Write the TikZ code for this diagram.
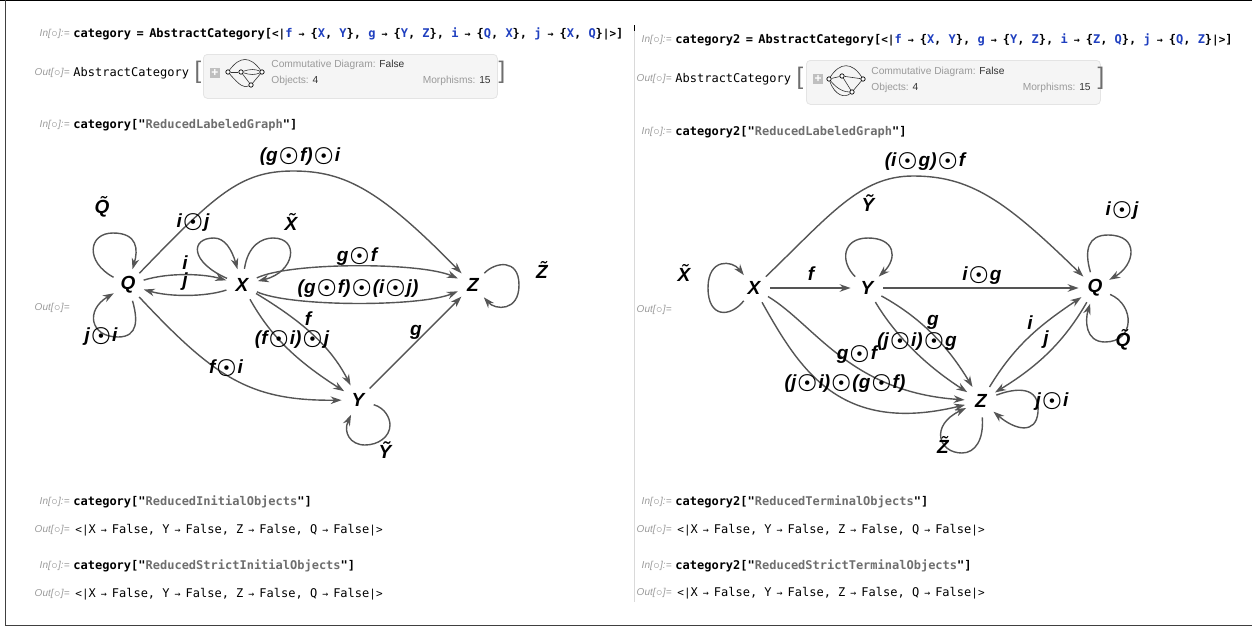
\documentclass[tikz,border=0pt]{standalone}
\usepackage{fontspec}
\setmainfont{Liberation Sans}
\newfontfamily\codefont{DejaVu Sans Mono}
\definecolor{edgegray}{HTML}{555555}
\definecolor{symblue}{HTML}{1F3FBF}
\definecolor{strgray}{HTML}{6E6E6E}
\definecolor{promptgray}{HTML}{9A9A9A}
\definecolor{boxfill}{HTML}{F5F5F5}
\definecolor{boxline}{HTML}{E4E4E4}
\usetikzlibrary{arrows.meta}
\newcommand{\dotop}{\hspace{0.6pt}\scalebox{1.2}{\boldmath$\odot$}\hspace{0.6pt}}
\newcommand{\arw}{\makebox[8pt]{\fontsize{5}{5}\selectfont →}}
\newcommand{\arwc}{\makebox[9pt]{\fontsize{5}{5}\selectfont →}}
\newcommand{\lop}{{\fontsize{5.5}{5}\selectfont<|}}
\newcommand{\lcl}{{\fontsize{5.5}{5}\selectfont|>}}
\newcommand{\bl}[1]{\textcolor{symblue}{#1}}
\newcommand{\strg}[1]{"\textcolor{strgray}{#1}"}
\newcommand{\inlab}{In[$\scriptscriptstyle\circ$]:=}
\newcommand{\outlab}{Out[$\scriptscriptstyle\circ$]=}
\newcommand{\eqsp}{\hspace{-0.9pt} =\hspace{-0.9pt} }

\begin{document}
\begin{tikzpicture}[
  x=0.5pt, y=-0.5pt,
  obj/.style={circle, inner sep=0pt, minimum size=16pt, font=\fontsize{9.5}{9}\selectfont\bfseries\itshape},
  lab/.style={inner sep=0pt, font=\fontsize{9.5}{9}\selectfont\bfseries\itshape},
  arc/.style={draw=edgegray, line width=0.7pt, -{Stealth[length=5.5pt, width=3.8pt]}},
  code/.style={anchor=west, inner sep=0pt, font=\codefont\bfseries\fontsize{6}{7}\selectfont},
  outp/.style={anchor=west, inner sep=0pt, font=\codefont\fontsize{6}{7}\selectfont},
  prompt/.style={anchor=east, inner sep=0pt, text=promptgray, font=\itshape\fontsize{5}{5}\selectfont},
  sumbox/.style={anchor=north west, draw=boxline, fill=boxfill, rounded corners=2pt,
                 minimum width=147pt, minimum height=22pt, inner sep=0pt},
  sumtext/.style={inner sep=0pt, text=promptgray, font=\fontsize{5.1}{6}\selectfont},
  brack/.style={inner sep=0pt, text=strgray, font=\fontsize{12}{12}\selectfont},
  plusbox/.style={fill=black!25, text=white, minimum size=5pt, inner sep=0pt, font=\bfseries\fontsize{6}{6}\selectfont},
  dotnode/.style={circle, draw=black, fill=white, line width=0.35pt, inner sep=0pt, minimum size=2.2pt},
  thin edge/.style={draw=black!80, line width=0.3pt},
]
\useasboundingbox (0,0) rectangle (1252,627);

% page frame
\draw[black, line width=0.7pt] (0,0.5) -- (1252,0.5);
\draw[black!75, line width=0.5pt] (5.5,0) -- (5.5,625.5) -- (1252,625.5);
\draw[black!15, line width=0.4pt] (634,28) -- (634,602);
\draw[black, line width=0.5pt] (634,25) -- (634,31);

% left notebook
\node[prompt] (a1) at (70,34) {\inlab};
\node[code] (c1) at (73,34) {category\eqsp AbstractCategory[\lop\bl{f}\arwc\{\bl{X}, \bl{Y}\}, \bl{g}\arwc\{\bl{Y}, \bl{Z}\}, \bl{i}\arwc\{\bl{Q}, \bl{X}\}, \bl{j}\arwc\{\bl{X}, \bl{Q}\}\lcl]};
\node[prompt] (a2) at (70,73) {\outlab};
\node[outp] (c2) at (73,73) {AbstractCategory};
\node[brack] (b1) at (198,72) {[};
\node[sumbox] (s1) at (203,54) {};
\node[brack] (b2) at (502,72) {]};
\node[plusbox] (pb1) at (215,73) {+};
\node[dotnode] (i1q) at (228,72) {};
\node[dotnode] (i1x) at (241,72) {};
\node[dotnode] (i1z) at (262,72) {};
\node[dotnode] (i1y) at (251,85) {};
\draw[thin edge] (i1q) .. controls (240,56) and (250,56) .. (i1z);
\draw[thin edge] (i1q) .. controls (240,86) and (244,88) .. (i1y);
\draw[thin edge] (i1q) -- (i1x);
\draw[thin edge] (i1x) .. controls (250,69) and (255,69) .. (i1z);
\draw[thin edge] (i1x) .. controls (250,75) and (255,75) .. (i1z);
\draw[thin edge] (i1x) -- (i1y);
\draw[thin edge] (i1y) -- (i1z);
\node[sumtext, anchor=west] (t1) at (271,65) {Commutative Diagram: \textcolor{black!80}{False}};
\node[sumtext, anchor=west] (t2) at (271,81) {Objects: \textcolor{black!80}{4}};
\node[sumtext, anchor=east] (t3) at (491,81) {Morphisms: \textcolor{black!80}{15}};
\node[prompt] (a3) at (70,125) {\inlab};
\node[code] (c3) at (73,125) {category[\strg{ReducedLabeledGraph}]};
\node[prompt] (a4) at (70,308) {\outlab};
\node[prompt] (a5) at (70,502) {\inlab};
\node[code] (c5) at (73,502) {category[\strg{ReducedInitialObjects}]};
\node[prompt] (a6) at (70,530) {\outlab};
\node[outp] (c6) at (75,530) {\lop X\arw False, Y\arw False, Z\arw False, Q\arw False\lcl};
\node[prompt] (a7) at (70,566) {\inlab};
\node[code] (c7) at (73,566) {category[\strg{ReducedStrictInitialObjects}]};
\node[prompt] (a8) at (70,594) {\outlab};
\node[outp] (c8) at (75,594) {\lop X\arw False, Y\arw False, Z\arw False, Q\arw False\lcl};

% left graph
\node[obj] (Q1) at (128,285) {Q};
\node[obj] (X1) at (242,285) {X};
\node[obj] (Z1) at (473,285) {Z};
\node[obj] (Y1) at (358,400) {Y};

\draw[arc] (Q1) .. controls (215,195) and (240,171) .. (293,171) .. controls (345,171) and (380,190) .. (Z1);
\draw[arc] (Q1) .. controls (170,272) and (205,274) .. (X1);
\draw[arc] (X1) .. controls (205,297) and (170,297) .. (Q1);
\draw[arc] (X1) .. controls (290,262) and (420,262) .. (Z1);
\draw[arc] (X1) .. controls (290,307) and (420,307) .. (Z1);
\draw[arc] (X1) .. controls (300,320) and (330,345) .. (Y1);
\draw[arc] (X1) .. controls (270,335) and (295,360) .. (Y1);
\draw[arc] (Q1) .. controls (215,378) and (250,401) .. (Y1);
\draw[arc] (Y1) -- (Z1);
\draw[arc] (Q1) .. controls (85,262) and (88,233) .. (113,233) .. controls (138,233) and (138,250) .. (Q1);
\draw[arc] (Q1) .. controls (138,320) and (138,337) .. (118,337) .. controls (90,337) and (85,310) .. (Q1);
\draw[arc] (X1) .. controls (190,262) and (190,238) .. (214,238) .. controls (225,238) and (232,250) .. (X1);
\draw[arc] (X1) .. controls (248,245) and (262,238) .. (273,238) .. controls (300,238) and (295,272) .. (X1);
\draw[arc] (Z1) .. controls (495,262) and (519,258) .. (519,285) .. controls (519,312) and (495,310) .. (Z1);
\draw[arc] (Y1) .. controls (385,408) and (390,418) .. (390,425) .. controls (390,437) and (378,445) .. (365,445) .. controls (350,445) and (343,432) .. (Y1);

\node[lab] (l1) at (300,157) {(g\dotop f)\dotop i};
\node[lab] (l2) at (193,223) {i\dotop j};
\node[lab] (l3) at (102,207) {\~Q};
\node[lab] (l4) at (291,222) {\~X};
\node[lab] (l5) at (185,263) {i};
\node[lab] (l6) at (185,282) {j};
\node[lab] (l7) at (357,257) {g\dotop f};
\node[lab] (l8) at (358,289) {(g\dotop f)\dotop(i\dotop j)};
\node[lab] (l9) at (542,270) {\~Z};
\node[lab] (l10) at (308,319) {f};
\node[lab] (l11) at (292,340) {(f\dotop i)\dotop j};
\node[lab] (l12) at (416,332) {g};
\node[lab] (l13) at (226,368) {f\dotop i};
\node[lab] (l14) at (101,337) {j\dotop i};
\node[lab] (l15) at (385,450) {\~Y};

% right notebook
\node[prompt] (d1) at (672,40) {\inlab};
\node[code] (e1) at (675,40) {category2\eqsp AbstractCategory[\lop\bl{f}\arwc\{\bl{X}, \bl{Y}\}, \bl{g}\arwc\{\bl{Y}, \bl{Z}\}, \bl{i}\arwc\{\bl{Z}, \bl{Q}\}, \bl{j}\arwc\{\bl{Q}, \bl{Z}\}\lcl]};
\node[prompt] (d2) at (672,79) {\outlab};
\node[outp] (e2) at (675,79) {AbstractCategory};
\node[brack] (b3) at (800,78) {[};
\node[sumbox] (s2) at (806,60) {};
\node[brack] (b4) at (1101,78) {]};
\node[plusbox] (pb2) at (818,79) {+};
\node[dotnode] (i2x) at (829,79) {};
\node[dotnode] (i2y) at (842,76) {};
\node[dotnode] (i2q) at (863,79) {};
\node[dotnode] (i2z) at (852,92) {};
\draw[thin edge] (i2x) .. controls (840,62) and (852,62) .. (i2q);
\draw[thin edge] (i2x) -- (i2y);
\draw[thin edge] (i2y) -- (i2q);
\draw[thin edge] (i2y) -- (i2z);
\draw[thin edge] (i2x) .. controls (838,90) and (845,92) .. (i2z);
\draw[thin edge] (i2x) .. controls (835,96) and (845,98) .. (i2z);
\draw[thin edge] (i2z) -- (i2q);
\node[sumtext, anchor=west] (t4) at (871,72) {Commutative Diagram: \textcolor{black!80}{False}};
\node[sumtext, anchor=west] (t5) at (871,88) {Objects: \textcolor{black!80}{4}};
\node[sumtext, anchor=east] (t6) at (1091,88) {Morphisms: \textcolor{black!80}{15}};
\node[prompt] (d3) at (672,132) {\inlab};
\node[code] (e3) at (675,132) {category2[\strg{ReducedLabeledGraph}]};
\node[prompt] (d4) at (672,310) {\outlab};
\node[prompt] (d5) at (672,502) {\inlab};
\node[code] (e5) at (675,502) {category2[\strg{ReducedTerminalObjects}]};
\node[prompt] (d6) at (672,530) {\outlab};
\node[outp] (e6) at (677,530) {\lop X\arw False, Y\arw False, Z\arw False, Q\arw False\lcl};
\node[prompt] (d7) at (672,566) {\inlab};
\node[code] (e7) at (675,566) {category2[\strg{ReducedStrictTerminalObjects}]};
\node[prompt] (d8) at (672,593) {\outlab};
\node[outp] (e8) at (677,593) {\lop X\arw False, Y\arw False, Z\arw False, Q\arw False\lcl};

% right graph
\node[obj] (X2) at (754,288) {X};
\node[obj] (Y2) at (867,288) {Y};
\node[obj] (Q2) at (1095,288) {Q};
\node[obj] (Z2) at (981,401) {Z};

\draw[arc] (X2) .. controls (830,215) and (860,176) .. (913,176) .. controls (970,176) and (1005,200) .. (Q2);
\draw[arc] (X2) -- (Y2);
\draw[arc] (Y2) -- (Q2);
\draw[arc] (X2) .. controls (730,318) and (708,318) .. (708,288) .. controls (708,258) and (732,260) .. (X2);
\draw[arc] (Y2) .. controls (840,262) and (842,238) .. (868,238) .. controls (895,238) and (898,258) .. (Y2);
\draw[arc] (Q2) .. controls (1084,250) and (1088,235) .. (1108,235) .. controls (1140,235) and (1135,265) .. (Q2);
\draw[arc] (Q2) .. controls (1135,305) and (1135,342) .. (1105,342) .. controls (1085,342) and (1085,320) .. (Q2);
\draw[arc] (Y2) .. controls (925,320) and (950,350) .. (Z2);
\draw[arc] (Y2) .. controls (895,335) and (925,365) .. (Z2);
\draw[arc] (X2) .. controls (815,325) and (850,392) .. (Z2);
\draw[arc] (X2) .. controls (800,370) and (840,435) .. (Z2);
\draw[arc] (Z2) .. controls (1015,345) and (1040,325) .. (Q2);
\draw[arc] (Q2) .. controls (1065,340) and (1040,365) .. (Z2);
\draw[arc] (Z2) .. controls (1015,388) and (1040,385) .. (1038,412) .. controls (1036,435) and (1015,430) .. (Z2);
\draw[arc] (Z2) .. controls (984,440) and (975,453) .. (962,453) .. controls (938,453) and (930,425) .. (Z2);

\node[lab] (m1) at (925,162) {(i\dotop g)\dotop f};
\node[lab] (m2) at (868,203) {\~Y};
\node[lab] (m3) at (1122,211) {i\dotop j};
\node[lab] (m4) at (684,273) {\~X};
\node[lab] (m5) at (811,274) {f};
\node[lab] (m6) at (982,276) {i\dotop g};
\node[lab] (m7) at (933,322) {g};
\node[lab] (m8) at (917,342) {(j\dotop i)\dotop g};
\node[lab] (m9) at (857,355) {g\dotop f};
\node[lab] (m10) at (845,384) {(j\dotop i)\dotop(g\dotop f)};
\node[lab] (m11) at (1030,323) {i};
\node[lab] (m12) at (1046,340) {j};
\node[lab] (m13) at (1123,340) {\~Q};
\node[lab] (m14) at (1052,402) {j\dotop i};
\node[lab] (m15) at (943,445) {\~Z};
\end{tikzpicture}
\end{document}
